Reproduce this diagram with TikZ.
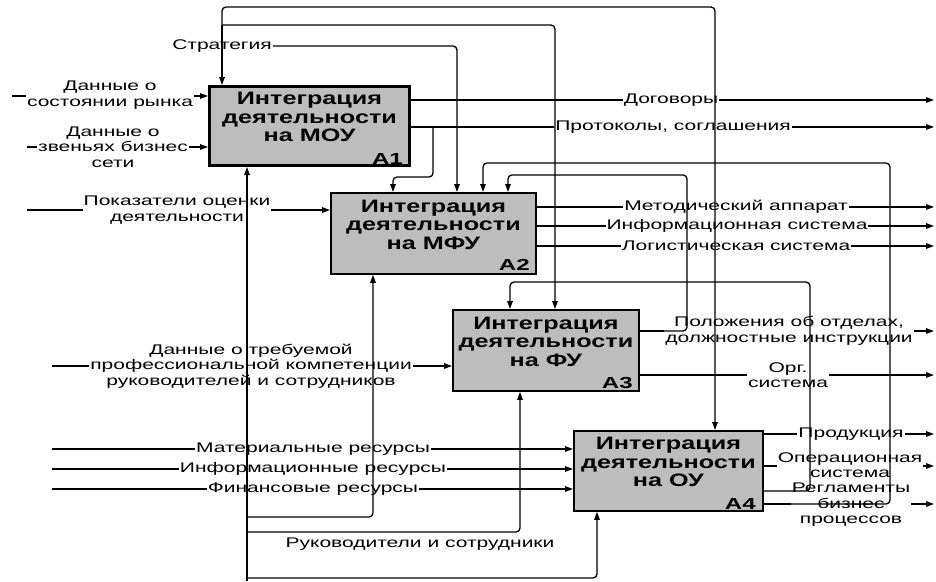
\documentclass[tikz,border=0pt]{standalone}
\usepackage{fontspec}
\setmainfont{Liberation Sans}[FakeStretch=1.5]
\newfontfamily\boxfont{Liberation Sans}[FakeStretch=1.4]
\newfontfamily\idxfont{Liberation Sans}[FakeStretch=1.5]
\usetikzlibrary{arrows.meta,calc}
\begin{document}
\begin{tikzpicture}[x=1pt,y=-1pt,
  box/.style={draw=black, line width=1.8pt, fill=black!26, inner sep=0pt, anchor=north west},
  boxtxt/.style={font={\boxfont\bfseries\fontsize{18}{18.5}\selectfont}, align=center, inner sep=0pt},
  idx/.style={font={\idxfont\bfseries\fontsize{16}{16}\selectfont}, inner sep=0pt, anchor=south east},
  lbl/.style={font={\fontsize{14}{15.5}\selectfont}, align=center, inner sep=1pt},
  lblw/.style={lbl, fill=white},
  wire/.style={line width=1.3pt},
  flow/.style={wire, -{Triangle[length=8pt,width=5.5pt]}},
  route/.style={flow, rounded corners=4pt}]
\useasboundingbox[fill=white] (0,0) rectangle (936,581);

% boxes
\node[box, line width=3pt, minimum width=200, minimum height=79] (A1) at (208,85) {};
\node[box, minimum width=205, minimum height=81] (A2) at (330,192) {};
\node[box, minimum width=186, minimum height=81] (A3) at (452,309) {};
\node[box, minimum width=189, minimum height=80] (A4) at (573,430) {};
\node[boxtxt] (A1t) at ([yshift=9]A1.center) {Интеграция\\деятельности\\на МОУ};
\node[boxtxt] (A2t) at ([yshift=9]A2.center) {Интеграция\\деятельности\\на МФУ};
\node[boxtxt] (A3t) at ([yshift=9]A3.center) {Интеграция\\деятельности\\на ФУ};
\node[boxtxt] (A4t) at ([yshift=9]A4.center) {Интеграция\\деятельности\\на ОУ};
\node[idx] (A1n) at ([xshift=-8,yshift=2]A1.south east) {A1};
\node[idx] (A2n) at ([xshift=-7,yshift=4]A2.south east) {A2};
\node[idx] (A3n) at ([xshift=-7,yshift=3]A3.south east) {A3};
\node[idx] (A4n) at ([xshift=-8,yshift=2]A4.south east) {A4};

% side points
\coordinate (xR) at (934,0);
\coordinate (xL0) at (12,0);
\coordinate (xL1) at (27,0);
\coordinate (xL2) at (52,0);
\coordinate (A1i1) at ([yshift=-11]A1.north west);
\coordinate (A1i2) at ([yshift=-62]A1.north west);
\coordinate (A2i1) at ([yshift=-18]A2.north west);
\coordinate (A3i1) at ([yshift=-57]A3.north west);
\coordinate (A4i1) at ([yshift=-19]A4.north west);
\coordinate (A4i2) at ([yshift=-39]A4.north west);
\coordinate (A4i3) at ([yshift=-59]A4.north west);
\coordinate (A1o1) at ([yshift=-15]A1.north east);
\coordinate (A1o2) at ([yshift=-42]A1.north east);
\coordinate (A2o1) at ([yshift=-15]A2.north east);
\coordinate (A2o2) at ([yshift=-34]A2.north east);
\coordinate (A2o3) at ([yshift=-54]A2.north east);
\coordinate (A3o1) at ([yshift=-22]A3.north east);
\coordinate (A3o2) at ([yshift=-66]A3.north east);
\coordinate (A4o1) at ([yshift=-4]A4.north east);
\coordinate (A4o2) at ([yshift=-36]A4.north east);
\coordinate (A4o3) at ([yshift=-61]A4.north east);
\coordinate (A4o4) at ([yshift=-74]A4.north east);

% inputs
\draw[flow] (A1i1 -| xL0) -- (A1i1);
\draw[flow] (A1i2 -| xL1) -- (A1i2);
\draw[flow] (A2i1 -| xL1) -- (A2i1);
\draw[flow] (A3i1 -| xL2) -- (A3i1);
\draw[flow] (A4i1 -| xL2) -- (A4i1);
\draw[flow] (A4i2 -| xL2) -- (A4i2);
\draw[flow] (A4i3 -| xL2) -- (A4i3);
% outputs
\draw[flow] (A1o1) -- (A1o1 -| xR);
\draw[flow] (A1o2) -- (A1o2 -| xR);
\draw[flow] (A2o1) -- (A2o1 -| xR);
\draw[flow] (A2o2) -- (A2o2 -| xR);
\draw[flow] (A2o3) -- (A2o3 -| xR);
\draw[flow] (A3o1) -- (A3o1 -| xR);
\draw[flow] (A3o2) -- (A3o2 -| xR);
\draw[flow] (A4o1) -- (A4o1 -| xR);
\draw[flow] (A4o2) -- (A4o2 -| xR);
\draw[flow] (A4o4) -- (A4o4 -| xR);

% labels
\node[lblw] (L1) at (110,95) {Данные о\\состоянии рынка};
\node[lblw] (L2) at (113,147) {Данные о\\звеньях бизнес\\сети};
\node[lblw] (L3) at (177,210) {Показатели оценки\\деятельности};
\node[lblw] (L4) at (251,366) {Данные о требуемой\\профессиональной компетенции\\руководителей и сотрудников};
\node[lblw] (L5) at (313,449) {Материальные ресурсы};
\node[lblw] (L6) at (313,469) {Информационные ресурсы};
\node[lblw] (L7) at (313,489) {Финансовые ресурсы};
\node[lblw] (R1) at (671,100) {Договоры};
\node[lblw] (R2) at (673,127) {Протоколы, соглашения};
\node[lblw] (R3) at (736,207) {Методический аппарат};
\node[lblw] (R4) at (737,226) {Информационная система};
\node[lblw] (R5) at (736,246) {Логистическая система};
\node[lblw] (R6) at (789,331) {Положения об отделах,\\должностные инструкции};
\node[lblw] (R7) at (788,375) {Орг.\\система};
\node[lblw] (R8) at (851,434) {Продукция};
\node[lblw] (R9) at (850,465) {Операционная\\система};
\node[lblw] (R10) at (851,505) {Регламенты\\бизнес\\процессов};
\node[lbl] (strat) at (222,46) {Стратегия};
\node[lbl] (mech) at (420,544) {Руководители и сотрудники};

% controls
\coordinate (jS) at (222,25);
\coordinate (tT) at (400,7);
\draw[flow] (jS) -- (jS |- A1.north);
\draw[route] (jS) |- (tT) -| ([xshift=142]A4.north west);
\draw[route] (jS) -| ([xshift=103]A3.north west);
\draw[route] (strat.east) -| ([xshift=127]A2.north west);
\coordinate (xP) at (433,0);
\coordinate (qP) at (420,177);
\draw[route] (A1o2 -| xP) |- (qP) -| ([xshift=63]A2.north west);
% feedback
\coordinate (xF1) at (890,163);
\draw[route] (A4o4) -| (xF1) -| ([xshift=153]A2.north west);
\coordinate (xF2) at (687,175);
\draw[route] (A3o1) -| (xF2) -| ([xshift=178]A2.north west);
\coordinate (xF3) at (810,282);
\draw[route] (A4o3) -| (xF3) -| ([xshift=58]A3.north west);
% mechanisms
\coordinate (mB) at (247,581);
\draw[flow] (mB) -- (mB |- A1.south);
\coordinate (m1) at (247,517);
\coordinate (m2) at (247,532);
\coordinate (m3) at (247,578);
\draw[route] (m1) -| ([xshift=43]A2.south west);
\draw[route] (m2) -| ([xshift=68]A3.south west);
\draw[route] (m3) -| ([xshift=24]A4.south west);
\end{tikzpicture}
\end{document}
